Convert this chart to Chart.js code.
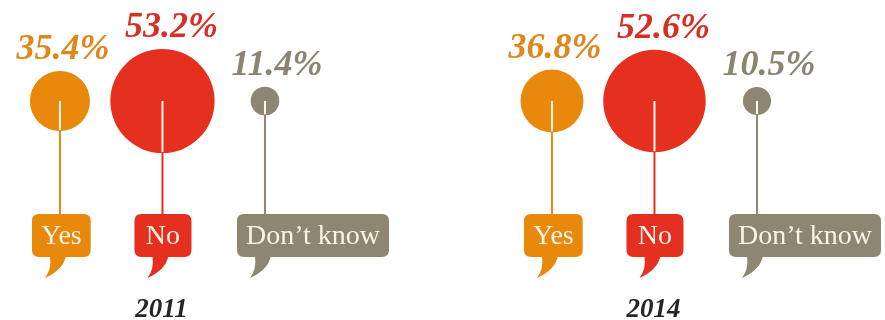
<!DOCTYPE html>
<html>
<head>
<meta charset="utf-8">
<title>Yes / No / Don't know</title>
<script src="https://cdn.jsdelivr.net/npm/chart.js@4"></script>
<style>
  html, body { margin: 0; padding: 0; background: #fff; }
  #wrap { width: 885px; height: 320px; }
</style>
</head>
<body>
<div id="wrap"><canvas id="chart" width="885" height="320"></canvas></div>
<script>
'use strict';

/* ── Dados ── */
const YEARS    = ['2011', '2014'];
const ANSWERS  = ['Yes', 'No', 'Don\u2019t know'];
const SHARE_2011 = [35.4, 53.2, 11.4];
const SHARE_2014 = [36.8, 52.6, 10.5];

/* ── Cores por resposta ── */
const FILL_COLORS = ['#E8890C', '#E52F1F', '#8D8670'];
const TEXT_COLORS = ['#E0861A', '#D92E24', '#8A8471'];
const LABEL_TEXT  = '#FBF4E6';
const VALUE_SHIFT = [3, 9, 12];   // deslocamento horizontal (px) das percentagens

const GROUP_GAP = 4.8;   // distância (em unidades do eixo x) entre os dois anos
const SERIF = '"Liberation Serif", "DejaVu Serif", serif';

/* raio da bolha em px a partir da percentagem */
function radiusFor(v) {
  return 12.5 + 0.014 * v * v;
}

function roundRect(ctx, x, y, w, h, r) {
  ctx.beginPath();
  ctx.moveTo(x + r, y);
  ctx.lineTo(x + w - r, y);
  ctx.quadraticCurveTo(x + w, y, x + w, y + r);
  ctx.lineTo(x + w, y + h - r);
  ctx.quadraticCurveTo(x + w, y + h, x + w - r, y + h);
  ctx.lineTo(x + r, y + h);
  ctx.quadraticCurveTo(x, y + h, x, y + h - r);
  ctx.lineTo(x, y + r);
  ctx.quadraticCurveTo(x, y, x + r, y);
  ctx.closePath();
}

/* Hastes, balões de fala, percentagens e anos */
const decorPlugin = {
  id: 'decor',
  afterDatasetsDraw(chart) {
    const ctx = chart.ctx;
    const series = [SHARE_2011, SHARE_2014];

    chart.data.datasets.forEach((ds, g) => {
      const meta = chart.getDatasetMeta(g);

      meta.data.forEach((el, i) => {
        const x = el.x, y = el.y, r = el.options.radius;
        const boxTop = y + 113, boxH = 43;
        const color = FILL_COLORS[i];

        /* haste: cor da bolha por fora, branca por dentro */
        ctx.save();
        ctx.lineWidth = 2;
        ctx.strokeStyle = color;
        ctx.beginPath();
        ctx.moveTo(x, y + r - 1);
        ctx.lineTo(x, boxTop + 1);
        ctx.stroke();
        ctx.strokeStyle = '#FFF6EC';
        ctx.beginPath();
        ctx.moveTo(x, y);
        ctx.lineTo(x, y + r - 1);
        ctx.stroke();

        /* balão com o nome da resposta */
        ctx.font = '28px ' + SERIF;
        const tw = ctx.measureText(ANSWERS[i]).width;
        const boxW = Math.max(57, tw + 18);
        const boxL = x - 28;
        const bottom = boxTop + boxH;
        ctx.fillStyle = color;
        roundRect(ctx, boxL, boxTop, boxW, boxH, 7);
        ctx.fill();
        ctx.beginPath();
        ctx.moveTo(x - 10, bottom - 1);
        ctx.quadraticCurveTo(x - 8, bottom + 12, x - 15, bottom + 21);
        ctx.quadraticCurveTo(x + 3, bottom + 13, x + 6, bottom - 1);
        ctx.closePath();
        ctx.fill();

        ctx.fillStyle = LABEL_TEXT;
        ctx.textAlign = 'center';
        ctx.textBaseline = 'middle';
        ctx.fillText(ANSWERS[i], boxL + boxW / 2, boxTop + boxH / 2 + 1);

        /* percentagem acima da bolha */
        ctx.font = 'italic bold 36px ' + SERIF;
        ctx.fillStyle = TEXT_COLORS[i];
        ctx.textBaseline = 'alphabetic';
        ctx.fillText(series[g][i].toFixed(1) + '%', x + VALUE_SHIFT[i], y - r - 12);
        ctx.restore();
      });

      /* ano, centrado sob a bolha do meio */
      const mid = meta.data[1];
      ctx.save();
      ctx.font = 'italic bold 27px ' + SERIF;
      ctx.fillStyle = '#262626';
      ctx.textAlign = 'center';
      ctx.textBaseline = 'alphabetic';
      ctx.fillText(YEARS[g], mid.x - 1, 317);
      ctx.restore();
    });
  },
};

function makeDataset(values, g) {
  return {
    label: YEARS[g],
    data: values.map((v, i) => ({ x: g * GROUP_GAP + i, y: 0, r: radiusFor(v) })),
    backgroundColor: FILL_COLORS,
    hoverBackgroundColor: FILL_COLORS,
    borderWidth: 0,
    hoverBorderWidth: 0,
    hoverRadius: 0,
    clip: false,
  };
}

new Chart(document.getElementById('chart'), {
  type: 'bubble',
  data: {
    datasets: [makeDataset(SHARE_2011, 0), makeDataset(SHARE_2014, 1)],
  },
  options: {
    responsive: false,
    animation: false,
    events: [],
    layout: { autoPadding: false, padding: { top: 0, left: 0, right: 0, bottom: 118 } },
    plugins: { legend: { display: false }, tooltip: { enabled: false } },
    scales: {
      x: { type: 'linear', display: false, min: -0.585, max: 8.049 },
      y: { type: 'linear', display: false, min: -1, max: 1 },
    },
  },
  plugins: [decorPlugin],
});
</script>
</body>
</html>
